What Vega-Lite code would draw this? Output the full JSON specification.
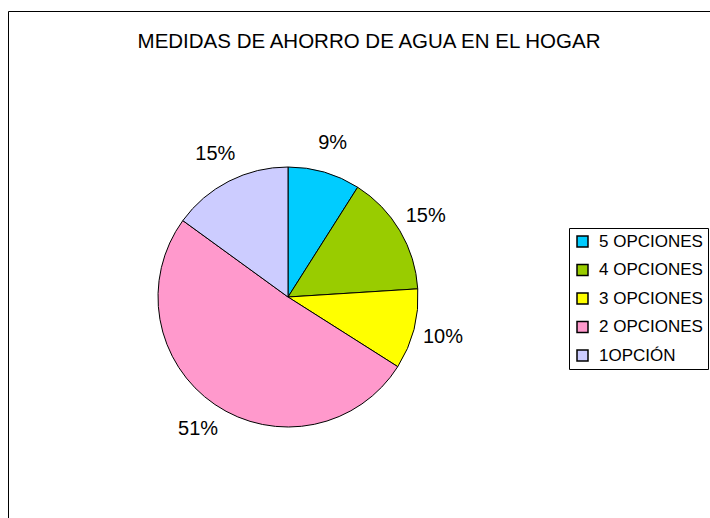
{
  "$schema": "https://vega.github.io/schema/vega-lite/v6.json",
  "autosize": {"type": "none"},
  "padding": {"left": 8, "top": 11, "right": 0, "bottom": 0},
  "width": 702,
  "height": 507,
  "background": "white",
  "title": {
    "text": "MEDIDAS DE AHORRO DE AGUA EN EL HOGAR",
    "font": "Liberation Sans",
    "fontSize": 20.5,
    "fontWeight": "normal",
    "color": "black",
    "anchor": "middle",
    "baseline": "alphabetic",
    "offset": 0,
    "dx": 10,
    "dy": 57
  },
  "data": {
    "values": [
      {"categoria": "5 OPCIONES", "porcentaje": 0.09},
      {"categoria": "4 OPCIONES", "porcentaje": 0.15},
      {"categoria": "3 OPCIONES", "porcentaje": 0.10},
      {"categoria": "2 OPCIONES", "porcentaje": 0.51},
      {"categoria": "1OPCIÓN", "porcentaje": 0.15}
    ]
  },
  "layer": [
    {
      "mark": {"type": "arc", "outerRadius": 130, "stroke": "black", "strokeWidth": 1},
      "encoding": {
        "x": {"value": 280},
        "y": {"value": 286},
        "theta": {"field": "porcentaje", "type": "quantitative", "stack": true},
        "order": {"field": "categoria", "sort": "descending"},
        "color": {
          "field": "categoria",
          "type": "nominal",
          "scale": {
            "domain": ["5 OPCIONES", "4 OPCIONES", "3 OPCIONES", "2 OPCIONES", "1OPCIÓN"],
            "range": ["#00CCFF", "#99CC00", "#FFFF00", "#FF99CC", "#CCCCFF"]
          },
          "legend": {
            "title": null,
            "orient": "none",
            "legendX": 561,
            "legendY": 217,
            "strokeColor": "black",
            "fillColor": "white",
            "padding": 5,
            "symbolType": "square",
            "symbolSize": 121,
            "symbolStrokeColor": "black",
            "symbolStrokeWidth": 1.5,
            "symbolOpacity": 1,
            "labelFont": "Liberation Sans",
            "labelFontSize": 17,
            "labelColor": "black",
            "labelOffset": 8,
            "rowPadding": 10.5
          }
        }
      }
    },
    {
      "mark": {"type": "text", "font": "Liberation Sans", "fontSize": 20, "color": "black", "align": "center", "baseline": "middle"},
      "encoding": {
        "x": {"value": 280},
        "y": {"value": 286},
        "theta": {"field": "porcentaje", "type": "quantitative", "stack": true},
        "order": {"field": "categoria", "sort": "descending"},
        "radius": {"value": 160},
        "text": {"field": "porcentaje", "type": "quantitative", "format": ".0%"}
      }
    }
  ],
  "config": {
    "view": {"stroke": "black", "strokeWidth": 1},
    "font": "Liberation Sans"
  }
}
